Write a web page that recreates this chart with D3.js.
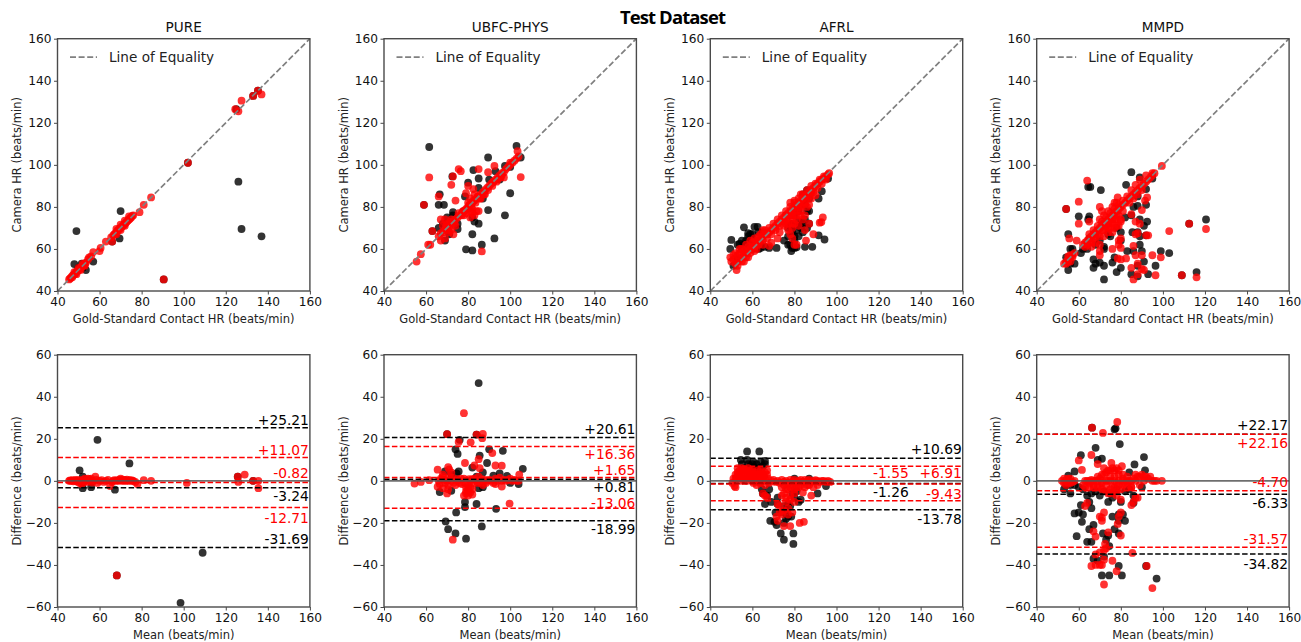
<!DOCTYPE html>
<html>
<head>
<meta charset="utf-8">
<script src="https://cdn.jsdelivr.net/npm/d3@7"></script>
<style>
html, body { margin: 0; padding: 0; background: #fff; }
svg { display: block; }
text { font-family: "DejaVu Sans", sans-serif; }
</style>
</head>
<body>
<script>
//Data: [gold, camera] for the top row, [mean, difference] for the bottom row
var datasets = ["PURE", "UBFC-PHYS", "AFRL", "MMPD"];
var xTicks = [40, 60, 80, 100, 120, 140, 160];
var scatterTicks = [40, 60, 80, 100, 120, 140, 160];
var diffTicks = [-60, -40, -20, 0, 20, 40, 60];

var pureTopBlack = [[49,68.5],[48,52.8],[51.5,53],[53.5,50],[57,54],[70,78],[69.5,65],[126,92],[127.5,69.5],[137,66],[50,51],[52,51],[66,63.5],[125,126.5],[133,132.8],[135.3,135.3],[102,101],[90.5,45.5]];
var pureTopRed = [[45.5,45.5],[46,46],[46.5,46.5],[47,47.2],[47.5,47.5],[48,48],[48.5,48.3],[49,49.2],[49.5,49.5],[50,50],[50.5,50.3],[51,51],[51.5,51.7],[52,52],[52.5,52.3],[53,53],[53.5,53.5],[54.5,55],[55,56],[56,56.5],[57,58.5],[60,59],[60.5,60.5],[63,63.5],[66,63.5],[65.5,65.5],[66.5,66.5],[67,67],[67.5,67.3],[68,68],[68.5,68.8],[69,69],[69.5,69.7],[70,70],[70.5,70.5],[71,71],[71.5,71.5],[72,72],[72.5,72.5],[73,73],[73.5,73.5],[74,74],[74.5,74.5],[75,75],[75.5,75.7],[76,76],[79,77.5],[81,81],[84.5,84.5],[102,101],[90.5,45.5],[124.5,126.5],[126,125.5],[127.5,130.5],[133,132.8],[135.3,135.3],[137,133.5],[47,46.5],[49,48],[51,50],[53,52],[48,49],[50,51],[52,53],[68,69.5],[70,71.5],[72,73.5],[74,75.5],[68,67],[70,69],[72,71]];
var pureBottomBlack = [[50.5,5],[52,2],[52,-3.5],[56,-3],[59,19.5],[67.3,-4.2],[74.2,8.3],[109,-34.2],[98.5,-58],[68.2,-45],[125.7,2],[133,0]];
var pureBottomRed = [[45.5,0],[46,0.2],[46.5,0],[47,0.3],[47.5,-0.2],[48,0],[48.5,0.4],[49,0],[49.5,-0.4],[50,0.5],[50.5,-1],[51,0],[51.5,-1.5],[52,0.5],[52.5,-0.5],[53,1],[53.5,0],[54,-0.5],[55,0.8],[55.5,0],[56,1],[57,0],[58,2],[59,-1],[60,0],[61,0.3],[63,0],[64,0.4],[65,-2.5],[66,-0.6],[66.5,0],[67,0.3],[68,0],[68.5,0.3],[69,0],[69.5,0.5],[70,1],[70.5,0],[71,0.6],[71.5,0],[72,0.4],[72.5,0],[73,0.6],[73.5,0],[74,0.2],[74.5,0.3],[75,0],[75.5,0.2],[76,0],[78,-1.5],[81,0.3],[84.5,0],[68.2,-45],[101.5,-1],[125.7,2],[126,-0.5],[129,3],[133,0],[135.5,0],[135.5,-3.5],[77,-0.5],[62,-0.5],[58.5,0.5],[54.5,1],[56.5,-0.8]];

var ubfcTopBlack = [[61.5,108.5],[103,109],[105,103.5],[89.5,103.5],[97.5,99.5],[82.5,97.5],[85,93.5],[80,91.5],[90,93],[93,97],[78.5,85],[85,89],[87,84],[66.5,86],[66,81],[68.5,81],[72.8,77.5],[72.8,76],[75,69.5],[70,75],[68,72],[66,70],[69,64],[71,67],[82,75],[83,73],[85,72],[89.5,78.5],[100,86.5],[97.5,76],[82,67],[92.5,65],[86.5,62],[82,59.3],[79,59.8],[95,93],[100,99],[78,78],[75,72],[59,81],[72.5,94.5],[63,68.5]];
var ubfcTopRed = [[55.5,54],[57.5,57.5],[61,62],[62,62],[63,68.5],[59,81],[61.5,94],[66,85],[74,83],[72,90.5],[72.8,94.5],[75.5,98],[76.5,97],[79,86.5],[80,90],[82.5,88.5],[85,98],[89.5,96.5],[92.5,99.5],[105,94.2],[103.5,106.5],[86.5,58.8],[67,74],[69,74],[72,74],[73,67],[67,64],[69,65],[71,68],[66,66],[67,67.5],[68,68],[69,69],[70,70],[71,70.5],[72,72],[73,73],[74,74],[75,75],[76,76],[77,77],[78,78],[79,79],[80,80],[81,81],[82,82],[83,83],[84,84],[85,85],[86,86],[87,87],[88,88],[89,89],[90,90],[91,91],[92,92],[93,93],[94,94],[95,95],[96,96],[97,96.5],[98,98],[99,99],[100,100],[101,101],[102,102],[103,103],[104,104],[81,75],[83,76],[84,78],[85,78],[82,79],[80,82],[81,84],[83,86],[82,77],[81,78],[79,77],[77,76],[78,76],[70,72],[68,71],[72,69],[74,71],[88,86],[86,84],[92,92],[94,93],[97,94],[96,95],[100,101],[79.5,79],[80.5,81],[81.5,80],[82.5,83],[83.5,82],[84.5,85],[85.5,84],[87.5,86],[89.5,88],[91.5,90],[93.5,92],[95.5,94],[75.5,77],[77.5,78],[69.5,71],[70.5,69],[71.5,73],[73.5,72]];
var ubfcBottomBlack = [[85,46.5],[76,19.5],[74,15],[75,12.8],[85.5,12],[90,15],[96.5,14.3],[89,8.5],[82,6.3],[106,5.7],[75.5,4.5],[69,4.5],[74.5,3.5],[87,4],[92,2.5],[95,3.5],[98.5,2.3],[104,-1.5],[100,-1],[66.5,-5.3],[72,-4.7],[85,-3.5],[87,-3],[78.5,-10],[78.5,-12.5],[84,-11],[93.3,-13.3],[74.3,-15],[69.3,-19.3],[70.5,-23],[74,-25],[79,-27.5],[86.5,-21.7],[84,22],[70,22.2],[84,2],[72,3]];
var ubfcBottomRed = [[78,32.2],[70,22.2],[84,22],[87,22.3],[86.7,20.3],[75.5,18.5],[81.2,18.3],[91.5,13.2],[85,10.3],[78.5,8.5],[83,7.3],[85.5,6],[93,7.3],[96,7.2],[104.3,3],[65.5,5.3],[70.5,6.5],[71,5.5],[99.7,-10.8],[72.7,-28],[78,-7],[80,-7],[82,-6.5],[80,-5],[70,-6],[70.5,-4],[65.5,-2.8],[68,-3.5],[96,-2.7],[54.5,-1.3],[57.5,-0.5],[61.5,0.3],[66,0],[67,1],[68,2],[69,-1],[70,0],[71,2],[72,0],[73,-1],[74,-2],[75,0],[76,-1],[77,-1.5],[78,1],[79,-3],[80,-2],[81,0],[82,0.8],[83,1],[84,0],[85,2],[86,-1],[87,-2],[88,0.5],[89,0],[90,0.5],[91,0],[92,-1],[93,-1.5],[94,0],[95,1.5],[96,0],[97,0.5],[98,0],[99,0.5],[100,1],[101,0],[102,0.5],[103,0],[104,0],[80,-3.5],[79,-5],[82,-4],[68,3],[72,4],[66.5,-1.5],[68.5,0.5],[70.5,-2],[72.5,1.5],[74.5,0.8],[76.5,1],[78.5,-1],[80.5,0.8],[82.5,-1],[84.5,-1],[86.5,0.8],[88.5,-1],[93,1],[79,-6],[81,-5.5],[81,-3]];

var afrlTopBlack = [[50,64.3],[49.5,60],[53,62],[54,62.5],[55,64],[56,70.3],[58,67.5],[59,67],[60,65],[61,70.5],[62.5,70.5],[61,62],[63,60],[66,61],[68,60.5],[71.5,60.5],[75,64],[78,62],[80,60.5],[81,60.8],[78.5,59],[85,61],[88.5,61],[91.5,66.5],[94.3,64.5],[83,70],[87,72],[87,78],[93,87.5],[96,93.5],[91.5,84],[78,71],[80,71],[82,73],[85,74],[77,70],[51,52],[53,55],[55,60],[57,61],[59,62],[62,64],[64,62],[84,68],[86,86],[88,88],[84,86],[76,76],[79,72],[81,69],[83,72],[86,78],[56,62],[57,64],[58,63],[60,60],[62,60.5],[64,60.5],[58,66],[60,67],[63,68],[65,68],[77,66],[79,68],[80,66],[82,66],[84,72],[86,70],[77,62],[79,60.5],[80,64],[85,81],[87,84],[86,88],[84,83],[82,78],[80,76]];
var afrlTopRed = [[49.5,56],[50,54],[51,57],[52.5,50],[53,54],[52,58],[54,60],[53,52],[54,55],[55,56],[56,57],[57,58],[58,59],[59,60],[60,61],[61,61],[62,63],[63,64],[64,65],[65,66],[66,67],[67,67],[68,68],[69,69],[70,70],[71,71],[72,72],[73,73],[74,74],[75,75],[76,76],[77,77],[78,78],[79,79],[80,80],[81,81],[82,82],[83,83],[84,84],[85,85],[86,86],[87,87],[88,88],[89,89],[90,90],[91,91],[92,92],[93,93],[94,93.5],[95,94.5],[96,95.5],[96.5,96],[55,60],[57,62],[59,64],[61,65],[63,66],[65,69],[65,62],[62,60],[58,56],[56,54],[76,74],[78,76],[80,78],[82,80],[84,81],[86,84],[88,87],[78,82],[80,83],[83,86],[76,72],[79,72],[81,74],[83,76],[85,76],[87,81],[92,72.5],[92.8,72.8],[93.5,75],[85.5,64],[89,67],[87,72],[85,69],[80,62],[81,62],[79,65],[78,67],[72,65],[69,63],[68,61.5],[73,68],[75,71],[77,69],[51,55],[52,53],[53,57],[54,58],[55,54],[56,59],[57,56],[58,61],[59,58],[60,63],[61,59],[62,64],[63,62],[64,67],[65,64],[66,69],[67,65],[68,70],[69,67],[70,72],[71,69],[72,74],[73,71],[74,76],[75,73],[76,78],[77,75],[78,80],[79,76],[80,82],[81,78],[82,84],[83,80],[84,86],[85,82],[86,88],[87,85],[88,90],[89,87],[90,91],[91,89],[92,93],[93,91],[94,94.5],[95,93],[79,75],[81,76],[83,78],[77,72],[79,70],[82,71],[84,74],[80,72],[86,80],[88,84],[90,85.5]];
var afrlBottomBlack = [[57.5,14],[63.3,14],[54.5,10],[57.5,10],[60,8],[58,8],[62,8],[66,9.5],[66,8],[64,9],[60.5,9],[63,6],[64.5,-4],[65,-6],[66,-11],[69,-10],[72,-11],[71,-15],[68.5,-19],[70.5,-19.5],[71.5,-21],[73.5,-25],[75,-28],[79.5,-25],[79.5,-30],[75,-20],[77,-17],[78.5,-17],[75,-12],[78,-12],[82,-10],[83,-9],[80,-8],[91,-6],[95,-2.5],[87,1],[80,1],[56,6],[59,5],[62,5],[74,-15],[76,-14],[72,-8],[55,8],[59,7],[61,6.5],[65,7],[67,-7],[68,-4],[76,-18],[77,-11],[79,-6],[81,-5]];
var afrlBottomRed = [[50.5,-1],[51,1],[51.5,-2.5],[52,3],[52.5,1],[53,6],[53.5,2],[54,5],[54.5,0],[55,4],[55.5,5.5],[56,1],[56.5,3],[57,5],[57.5,0],[58,4],[58.5,2],[59,5],[59.5,1],[60,3],[60.5,-1],[61,4],[61.5,2],[62,0],[62.5,5],[63,3],[63.5,-1],[64,2],[64.5,4],[65,0],[65.5,2],[66,-2],[67,5],[67.5,1],[68,-1],[69,0],[70,0.5],[71,-0.5],[72,0],[73,-1],[74,0.5],[75,-0.5],[76,0],[77,-1],[78,0.5],[79,-0.5],[80,0.5],[81,-0.5],[82,0],[83,0.5],[84,-0.5],[85,0.5],[86,0],[87,0.5],[88,-0.5],[89,0],[90,0.3],[91,0],[92,-0.5],[93,0],[94,0],[95,-0.5],[96,0],[97,-0.5],[75,-21.5],[78,-21.5],[82.5,-20],[84.5,-19.5],[72,-19],[71.5,-17],[74,-16],[77,-16],[79,-15],[73,-12],[76,-10],[80,-10],[84,-5.5],[88,-7],[75,-6],[78,-7],[66,-7],[65,-6],[52,-3],[67,-8],[74,-3],[76,-4],[78,-3],[80,-4],[82,-3],[85,-3],[87,-2],[72,-11],[75,-14],[80,-6],[52,1],[53,3],[54,2],[55,1],[56,5],[57,2],[58,1],[59,3],[60,5],[61,1],[62,3],[63,1],[64,5],[65,3],[66,1],[66,4],[67,3],[64,-1],[62,-2],[60,1],[58,6],[55,6],[53,4],[75,-2],[77,-4],[79,-2],[81,-3],[83,-2],[86,-2],[89,-3],[91,-2],[76,-8],[78,-9],[74,-7],[73,-15],[77,-13]];

var mmpdTopBlack = [[85,96.5],[89,94],[95,93.5],[82.5,90.5],[64.5,89.5],[65.5,89.5],[70.5,88],[92,88.5],[88,85],[86,80],[88,80.5],[92,81],[60,75.5],[65,75.5],[64.5,74],[72,72],[74,67],[80,68],[89,74],[92.5,73],[91,71],[85,76],[82,75],[85.5,68],[88,68],[89,66],[92,66.5],[55,67],[56,60],[57,60],[54,56],[55,50],[58,53],[56,53],[61,58],[67,55],[67,51],[68,53],[70,53.5],[72,52],[72,45.5],[76,53.5],[77,56],[78,49],[80,51],[83,59],[86,59],[89,62],[90,59],[85,48],[88,47],[93,48],[96.5,52],[99,59],[103,58],[116,49],[109,47.5],[112.5,72],[120.5,74],[91,54],[88,52],[72,60],[72,61],[68,62],[65,65],[64,60],[62,60],[54,79],[80,64],[75,66],[70,64],[78,70]];
var mmpdTopRed = [[53,53],[54,54],[55,55],[56,56],[57,57],[58,58],[56,54],[55,56.5],[62,62],[63,63],[64,64],[65,65],[66,66],[67,67],[68,68],[69,69],[70,70],[71,71],[72,72],[73,73],[74,74],[75,75],[76,76],[77,77],[78,78],[79,79],[80,80],[81,81],[82,82],[83,83],[84,84],[85,85],[86,86],[87,87],[88,88],[89,89],[90,90],[91,91],[92,92],[93,93],[94,94],[95,95],[96,96],[64,62],[66,63],[68,66],[70,66],[72,69],[74,70],[76,72],[78,74],[80,74],[70,74],[72,76],[74,78],[76,80],[78,82],[75,70],[78,71],[80,73],[64,92.5],[60,82.5],[54,79],[60,72],[59,64],[55.5,65],[70,80],[71,78],[65,73],[78.5,84.5],[77,82],[85,88],[87,90.5],[89,93],[92,95],[95,96],[99.5,99.5],[90,78.5],[91.5,83],[92.5,84.5],[103,68.5],[112.5,72],[120.5,69.5],[109,47.5],[116,46.5],[96.5,47.5],[99,56],[95,57],[90,57],[87,57],[86,61.5],[85,51],[86,45.5],[88,48],[90,50.5],[91,50],[88,53],[80,55],[82.5,55.5],[78.5,55.5],[76,60],[70,59],[70,57],[79,62],[80,60.5],[80,65],[79,64],[87,67],[88,67.5],[92,66.5],[93,66.5],[85,76.5],[87,73],[89,72],[54,53],[55,54],[56,57],[57,56],[63,61],[65,63],[67,65],[69,67],[71,69],[73,71],[75,73],[77,74],[79,76],[81,78],[65,67],[67,69],[69,71],[71,73],[73,75],[75,77],[77,79],[79,81],[81,83],[83,85],[76,68],[74,68],[72,66],[79,71],[77,70],[66,61],[68,63],[70,62],[74,72],[76,74],[78,76],[84,82],[86,84],[88,86],[90,88]];
var mmpdBottomBlack = [[77.5,25],[77,24.5],[68,15.7],[79.5,17.5],[61,12.2],[71,10.5],[69,10],[91,11.3],[86.5,7.8],[91.5,5],[84,4],[58,4.5],[55,2.5],[53,-4],[56,-6],[58,-15.5],[60,-15],[61,-11.5],[62,-16],[61.5,-19.5],[59,-26.3],[64,-29],[66,-29],[65,-23],[67,-21],[66,-13],[65,-10],[74,-10],[80,-10],[86,-7],[86,-10.5],[76,-17],[79,-16],[81,-16],[82,-19],[79,-19],[77,-23],[79,-25],[74,-26],[71.5,-25],[73,-28],[74.5,-31],[67,-37],[69,-38],[72,-36],[79,-40.5],[71,-45],[74.5,-45],[80.5,-45],[97,-46.5],[92,-40.5],[66.3,25.3],[62,-4],[66,-6],[70,-7],[75,-6],[90,-3],[54,-2],[56,-2],[58,-2],[60,-3],[64,-7],[68,-5],[72,-5],[78,-4],[82,-5],[84,-4],[76,-8]];
var mmpdBottomRed = [[52,0],[53,-1],[54,0.5],[55,-1],[56,1],[57,-0.5],[58,0],[62,-2],[63,-3],[64,0],[65,-1],[66,0.5],[67,-2],[68,0],[69,-3],[70,1],[71,-1],[72,3],[73,-2],[74,0],[75,5],[76,-3],[77,2],[78,-1],[79,3],[80,-4],[81,1],[82,-1],[83,2],[84,0],[85,-3],[86,1],[87,0],[88,2],[89,-2],[90,3],[91,0],[92,2],[93,1],[94,2],[95,0],[96,0],[97,0],[99.5,0],[72,6],[74,5],[76,6],[78,-5],[74,-6],[70,-3],[66.3,25.3],[71.5,22.8],[78.3,28],[66,12.3],[60,9.7],[61.5,5.2],[69,8],[75.5,8.5],[78,6],[80.5,7],[85,-11.5],[64,-10.5],[63,-12],[70,-17],[71,-19],[71,-17.5],[72,-15],[78.5,-20.5],[80,-15],[79,-17],[80,-26],[74,-24.5],[67,-24],[68,-26.5],[72.5,-30],[73,-32],[72,-33],[70,-34],[68,-35],[66,-40.5],[68,-40],[70,-40],[71,-40],[72,-37.5],[76,-38],[78,-43],[85.5,-34.3],[72,-49.3],[92.3,-40.5],[95,-51],[85,-3],[87,-8],[88,-8],[86,-10],[80,-9],[63,0],[65,0],[67,0],[69,0],[71,0],[73,0],[75,0],[77,0],[79,0],[81,0],[83,0],[85,0],[71,3],[73,4],[75,2],[77,5],[79,5],[81,3],[83,-3],[71,-4],[73,-5],[75,-4],[77,-3],[79,-2],[81,-2],[69,2],[67,-3],[65,-3],[87,3],[89,2],[91,2],[53,1],[55,1],[56,-1],[54,-2],[78,-7],[76,-6]];

//Bland-Altman lines: bias and limits of agreement
var pureBlackLines = [25.21, -3.24, -31.69];
var pureRedLines = [11.07, -0.82, -12.71];
var ubfcBlackLines = [20.61, 0.81, -18.99];
var ubfcRedLines = [16.36, 1.65, -13.06];
var afrlBlackLines = [10.69, -1.26, -13.78];
var afrlRedLines = [6.91, -1.55, -9.43];
var mmpdBlackLines = [22.17, -6.33, -34.82];
var mmpdRedLines = [22.16, -4.70, -31.57];

var pureBlackLabels = ["+25.21", "-3.24", "-31.69"];
var pureRedLabels = ["+11.07", "-0.82", "-12.71"];
var ubfcBlackLabels = ["+20.61", "+0.81", "-18.99"];
var ubfcRedLabels = ["+16.36", "+1.65", "-13.06"];
var afrlBlackLabels = ["+10.69", "-1.26", "-13.78"];
var afrlRedLabels = ["+6.91", "-1.55", "-9.43"];
var mmpdBlackLabels = ["+22.17", "-6.33", "-34.82"];
var mmpdRedLabels = ["+22.16", "-4.70", "-31.57"];

var panels = [
    { top: [pureTopBlack, pureTopRed], bottom: [pureBottomBlack, pureBottomRed], lines: [pureBlackLines, pureRedLines], labels: [pureBlackLabels, pureRedLabels] },
    { top: [ubfcTopBlack, ubfcTopRed], bottom: [ubfcBottomBlack, ubfcBottomRed], lines: [ubfcBlackLines, ubfcRedLines], labels: [ubfcBlackLabels, ubfcRedLabels] },
    { top: [afrlTopBlack, afrlTopRed], bottom: [afrlBottomBlack, afrlBottomRed], lines: [afrlBlackLines, afrlRedLines], labels: [afrlBlackLabels, afrlRedLabels] },
    { top: [mmpdTopBlack, mmpdTopRed], bottom: [mmpdBottomBlack, mmpdBottomRed], lines: [mmpdBlackLines, mmpdRedLines], labels: [mmpdBlackLabels, mmpdRedLabels] }
];

//Layout, kept apart from the values
var panelLeft = [57.5, 384, 710.3, 1036.7];
var panelWidth = 252.4;
var panelHeight = 252.3;
var topRowY = 38.7;
var bottomRowY = 354.7;
var pointRadius = 3.9;
var seriesColor = ["#000", "#f00"];
var yLabelX = -36.5;

//Label baselines in difference units, then right edge shift in px
var labelBase = [
    [[26.7, -9.8, -30], [12.5, 1.3, -19.9]],
    [[22.4, -5.3, -25.4], [10.3, 3, -13]],
    [[12.7, -7.5, -20.5], [1.3, 1.3, -8.7]],
    [[24.4, -13, -41.9], [15.6, -2.7, -29.9]]
];
var labelShift = [
    [[0, 0, 0], [0, 0, 0]],
    [[0, 0, 0], [0, 0, 0]],
    [[0, -53, 0], [0, -53, 0]],
    [[0, 0, 0], [0, 0, 0]]
];

var svg = d3.select("body").append("svg")
    .attr("width", 1301)
    .attr("height", 642);

svg.append("text")
    .attr("x", 672.5)
    .attr("y", 24)
    .attr("text-anchor", "middle")
    .attr("font-size", "18.5px")
    .attr("font-weight", "bold")
    .style("font-family", "'Open Sans', sans-serif")
    .style("letter-spacing", "-0.9px")
    .text("Test Dataset");

svg.append("defs").append("clipPath").attr("id", "plotClip")
    .append("rect")
    .attr("width", panelWidth)
    .attr("height", panelHeight);

function drawAxes(g, x, y, yTicks, xLabel, yLabel) {
    g.append("g")
        .attr("class", "bottom axis")
        .attr("transform", "translate(0, " + panelHeight + ")")
        .call(d3.axisBottom(x).tickValues(xTicks).tickSize(3.5).tickPadding(2.5));
    g.append("g")
        .attr("class", "left axis")
        .call(d3.axisLeft(y).tickValues(yTicks).tickSize(3.5).tickPadding(2.5));
    g.selectAll(".axis text").attr("font-size", "12.2px").attr("fill", "#111");
    g.selectAll(".axis line").attr("stroke", "#333").attr("stroke-width", 0.9);
    g.selectAll(".axis path").attr("display", "none");

    g.append("rect")
        .attr("width", panelWidth)
        .attr("height", panelHeight)
        .attr("fill", "none")
        .attr("stroke", "#4a4a4a")
        .attr("stroke-width", 1.4);

    g.append("text")
        .attr("x", panelWidth / 2)
        .attr("y", panelHeight + 32.5)
        .attr("font-size", "11.5px")
        .attr("text-anchor", "middle")
        .attr("fill", "#222")
        .text(xLabel);
    g.append("text")
        .attr("transform", "translate(" + yLabelX + ", " + (panelHeight / 2) + ") rotate(-90)")
        .attr("font-size", "11.5px")
        .attr("text-anchor", "middle")
        .attr("fill", "#222")
        .text(yLabel);
}

function drawPoints(g, series, x, y) {
    var layer = g.append("g").attr("clip-path", "url(#plotClip)");
    series.forEach(function (points, s) {
        layer.selectAll("circle.s" + s)
            .data(points)
            .enter()
            .append("circle")
            .attr("class", "s" + s)
            .attr("cx", function (d) { return x(d[0]); })
            .attr("cy", function (d) { return y(d[1]); })
            .attr("r", pointRadius)
            .attr("fill", seriesColor[s])
            .attr("fill-opacity", 0.8);
    });
}

panels.forEach(function (panel, i) {
    // SCALES
    var x = d3.scaleLinear().domain([40, 160]).range([0, panelWidth]);
    var yTop = d3.scaleLinear().domain([40, 160]).range([panelHeight, 0]);
    var yDiff = d3.scaleLinear().domain([-60, 60]).range([panelHeight, 0]);

    //---TOP ROW
    var top = svg.append("g")
        .attr("transform", "translate(" + panelLeft[i] + ", " + topRowY + ")");

    drawPoints(top, panel.top, x, yTop);

    top.append("line")
        .attr("x1", x(40)).attr("y1", yTop(40))
        .attr("x2", x(160)).attr("y2", yTop(160))
        .attr("stroke", "#808080")
        .attr("stroke-width", 1.7)
        .attr("stroke-dasharray", "6,2.6");

    drawAxes(top, x, yTop, scatterTicks, "Gold-Standard Contact HR (beats/min)", "Camera HR (beats/min)");

    top.append("text")
        .attr("x", panelWidth / 2)
        .attr("y", -7)
        .attr("font-size", "13.6px")
        .attr("text-anchor", "middle")
        .attr("fill", "#111")
        .text(datasets[i]);

    //Legend
    top.append("line")
        .attr("x1", 12.5).attr("x2", 39.5)
        .attr("y1", 18.5).attr("y2", 18.5)
        .attr("stroke", "#808080")
        .attr("stroke-width", 1.7)
        .attr("stroke-dasharray", "6,2.6");
    top.append("text")
        .attr("x", 51.5)
        .attr("y", 23)
        .attr("font-size", "13.6px")
        .attr("fill", "#222")
        .text("Line of Equality");

    //---BOTTOM ROW
    var bottom = svg.append("g")
        .attr("transform", "translate(" + panelLeft[i] + ", " + bottomRowY + ")");

    drawPoints(bottom, panel.bottom, x, yDiff);

    bottom.append("line")
        .attr("x1", 0).attr("x2", panelWidth)
        .attr("y1", yDiff(0)).attr("y2", yDiff(0))
        .attr("stroke", "#555")
        .attr("stroke-opacity", 0.85)
        .attr("stroke-width", 1.6);

    panel.lines.forEach(function (values, s) {
        bottom.selectAll("line.limit" + s)
            .data(values)
            .enter()
            .append("line")
            .attr("class", "limit" + s)
            .attr("x1", 0).attr("x2", panelWidth)
            .attr("y1", function (d) { return yDiff(d); })
            .attr("y2", function (d) { return yDiff(d); })
            .attr("stroke", seriesColor[s])
            .attr("stroke-width", 1.5)
            .attr("stroke-dasharray", "5.5,2.4");

        bottom.selectAll("text.label" + s)
            .data(panel.labels[s])
            .enter()
            .append("text")
            .attr("class", "label" + s)
            .attr("x", function (d, j) { return panelWidth - 1 + labelShift[i][s][j]; })
            .attr("y", function (d, j) { return yDiff(labelBase[i][s][j]); })
            .attr("text-anchor", "end")
            .attr("font-size", "13.8px")
            .attr("fill", seriesColor[s])
            .text(function (d) { return d; });
    });

    drawAxes(bottom, x, yDiff, diffTicks, "Mean (beats/min)", "Difference (beats/min)");
});
</script>
</body>
</html>
